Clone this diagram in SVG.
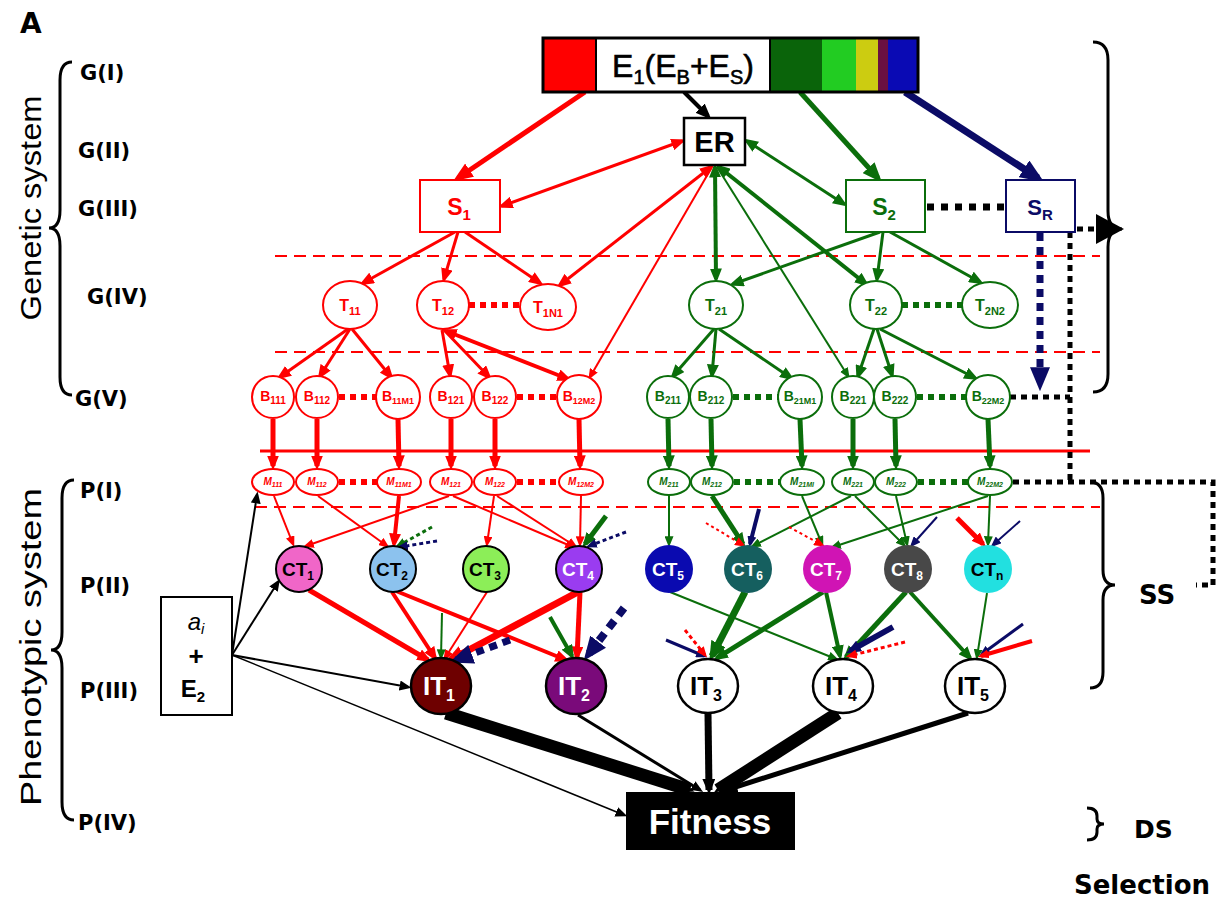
<svg xmlns="http://www.w3.org/2000/svg" width="1223" height="900" viewBox="0 0 1223 900">
<defs>
<style>
text{font-family:"Liberation Sans",Arial,sans-serif;}
.b{font-weight:bold;}
.lab text{font-family:"DejaVu Sans","Liberation Sans",sans-serif;font-weight:bold;}
.r{stroke:#ff0000;fill:none;}
.g{stroke:#0b6e0b;fill:none;}
.n{stroke:#0b0b66;fill:none;}
.k{stroke:#000;fill:none;}
.nodeR{fill:#fff;stroke:#ff0000;stroke-width:2;}
.nodeG{fill:#fff;stroke:#0b6e0b;stroke-width:2;}
.tr{fill:#ff0000;font-weight:bold;}
.tg{fill:#0b6e0b;font-weight:bold;}
.ct{stroke:#000;stroke-width:2;}
</style>
<marker id="mr1" viewBox="0 0 10 10" refX="7" refY="5" markerWidth="11" markerHeight="9" markerUnits="userSpaceOnUse" orient="auto-start-reverse" preserveAspectRatio="none"><path d="M0,0L10,5L0,10z" fill="#ff0000"/></marker>
<marker id="mr2" viewBox="0 0 10 10" refX="7" refY="5" markerWidth="15" markerHeight="12" markerUnits="userSpaceOnUse" orient="auto-start-reverse" preserveAspectRatio="none"><path d="M0,0L10,5L0,10z" fill="#ff0000"/></marker>
<marker id="mr3" viewBox="0 0 10 10" refX="7" refY="5" markerWidth="20" markerHeight="16" markerUnits="userSpaceOnUse" orient="auto-start-reverse" preserveAspectRatio="none"><path d="M0,0L10,5L0,10z" fill="#ff0000"/></marker>
<marker id="mg1" viewBox="0 0 10 10" refX="7" refY="5" markerWidth="11" markerHeight="9" markerUnits="userSpaceOnUse" orient="auto-start-reverse" preserveAspectRatio="none"><path d="M0,0L10,5L0,10z" fill="#0b6e0b"/></marker>
<marker id="mg2" viewBox="0 0 10 10" refX="7" refY="5" markerWidth="15" markerHeight="12" markerUnits="userSpaceOnUse" orient="auto-start-reverse" preserveAspectRatio="none"><path d="M0,0L10,5L0,10z" fill="#0b6e0b"/></marker>
<marker id="mg3" viewBox="0 0 10 10" refX="7" refY="5" markerWidth="20" markerHeight="16" markerUnits="userSpaceOnUse" orient="auto-start-reverse" preserveAspectRatio="none"><path d="M0,0L10,5L0,10z" fill="#0b6e0b"/></marker>
<marker id="mn1" viewBox="0 0 10 10" refX="7" refY="5" markerWidth="11" markerHeight="9" markerUnits="userSpaceOnUse" orient="auto-start-reverse" preserveAspectRatio="none"><path d="M0,0L10,5L0,10z" fill="#0b0b66"/></marker>
<marker id="mn2" viewBox="0 0 10 10" refX="7" refY="5" markerWidth="15" markerHeight="12" markerUnits="userSpaceOnUse" orient="auto-start-reverse" preserveAspectRatio="none"><path d="M0,0L10,5L0,10z" fill="#0b0b66"/></marker>
<marker id="mn3" viewBox="0 0 10 10" refX="7" refY="5" markerWidth="24" markerHeight="20" markerUnits="userSpaceOnUse" orient="auto-start-reverse" preserveAspectRatio="none"><path d="M0,0L10,5L0,10z" fill="#0b0b66"/></marker>
<marker id="mk1" viewBox="0 0 10 10" refX="7" refY="5" markerWidth="12" markerHeight="10" markerUnits="userSpaceOnUse" orient="auto-start-reverse" preserveAspectRatio="none"><path d="M0,0L10,5L0,10z" fill="#000"/></marker>
<marker id="mk2" viewBox="0 0 10 10" refX="7" refY="5" markerWidth="16" markerHeight="13" markerUnits="userSpaceOnUse" orient="auto-start-reverse" preserveAspectRatio="none"><path d="M0,0L10,5L0,10z" fill="#000"/></marker>
</defs>
<rect width="1223" height="900" fill="#fff"/>

<!-- labels -->
<g id="labels" class="lab" font-size="21">
<text x="20" y="33" font-size="28">A</text>
<text x="80" y="80">G(I)</text>
<text x="78" y="158">G(II)</text>
<text x="78" y="216">G(III)</text>
<text x="87" y="304">G(IV)</text>
<text x="75" y="406">G(V)</text>
<text x="80" y="498">P(I)</text>
<text x="80" y="593">P(II)</text>
<text x="80" y="698">P(III)</text>
<text x="78" y="830">P(IV)</text>
<text x="1139" y="604" font-size="26">SS</text>
<text x="1134" y="838" font-size="25">DS</text>
<text x="1074" y="894" font-size="26">Selection</text>
</g>
<g id="sysLabels" font-size="29">
<text transform="translate(41,208) rotate(-90)" text-anchor="middle" textLength="225" lengthAdjust="spacingAndGlyphs">Genetic system</text>
<text transform="translate(41,647) rotate(-90)" text-anchor="middle" textLength="318" lengthAdjust="spacingAndGlyphs">Phenotypic system</text>
</g>
<g id="braces" class="k" stroke-width="3">
<path d="M72,62 Q60,62 60,80 L60,210 Q60,228 49,228 Q60,228 60,246 L60,377 Q60,395 72,395"/>
<path d="M74,480 Q62,480 62,498 L62,632 Q62,650 51,650 Q62,650 62,668 L62,802 Q62,820 74,820"/>
<path d="M1093,42 Q1108,42 1108,60 L1108,211 Q1108,229 1122,229 Q1108,229 1108,247 L1108,374 Q1108,392 1093,392"/>
<path d="M1090,482 Q1103,482 1103,498 L1103,570 Q1103,585 1115,585 Q1103,585 1103,600 L1103,672 Q1103,688 1090,688"/>
<path d="M1087,808 Q1097,808 1097,816 L1097,819 Q1097,824 1104,824 Q1097,824 1097,829 L1097,832 Q1097,840 1087,840"/>
</g>

<!-- level lines -->
<g id="levelLines" stroke-width="2" fill="none">
<line x1="275" y1="256" x2="1100" y2="256" stroke="#ff0000" stroke-dasharray="12 7"/>
<line x1="275" y1="352" x2="1100" y2="352" stroke="#ff0000" stroke-dasharray="12 7"/>
<line x1="260" y1="451" x2="1090" y2="451" stroke="#ff0000" stroke-width="3"/>
<line x1="255" y1="507" x2="1100" y2="507" stroke="#ff0000" stroke-dasharray="12 7"/>
</g>

<!-- connectors -->
<g id="connectors">
<line class="r" stroke-width="5" x1="585" y1="92" x2="458" y2="178" marker-end="url(#mr3)"/>
<line class="k" stroke-width="4" x1="684" y1="92" x2="708" y2="116" marker-end="url(#mk2)"/>
<line class="g" stroke-width="5" x1="800" y1="92" x2="878" y2="178" marker-end="url(#mg3)"/>
<line class="n" stroke-width="7" x1="905" y1="92" x2="1038" y2="178" marker-end="url(#mn3)"/>
<line class="r" stroke-width="3" x1="502" y1="206" x2="682" y2="141" marker-start="url(#mr2)" marker-end="url(#mr2)"/>
<line class="g" stroke-width="3" x1="747" y1="141" x2="844" y2="204" marker-start="url(#mg2)" marker-end="url(#mg2)"/>
<line class="r" stroke-width="3" x1="455" y1="232" x2="363" y2="283" marker-end="url(#mr2)"/>
<line class="r" stroke-width="3" x1="458" y1="232" x2="444" y2="279" marker-end="url(#mr2)"/>
<line class="r" stroke-width="3" x1="465" y1="232" x2="540" y2="283" marker-end="url(#mr2)"/>
<line class="g" stroke-width="3" x1="880" y1="232" x2="733" y2="284" marker-end="url(#mg2)"/>
<line class="g" stroke-width="3" x1="883" y1="232" x2="877" y2="279" marker-end="url(#mg2)"/>
<line class="g" stroke-width="3" x1="890" y1="232" x2="980" y2="282" marker-end="url(#mg2)"/>
<line class="r" stroke-width="3" x1="711" y1="167" x2="560" y2="285" marker-start="url(#mr2)" marker-end="url(#mr2)"/>
<line class="r" stroke-width="2" x1="712" y1="167" x2="590" y2="377" marker-end="url(#mr1)"/>
<line class="g" stroke-width="4" x1="715" y1="167" x2="716" y2="279" marker-start="url(#mg2)" marker-end="url(#mg2)"/>
<line class="g" stroke-width="2" x1="717" y1="167" x2="848" y2="376" marker-end="url(#mg1)"/>
<line class="g" stroke-width="4" x1="719" y1="167" x2="866" y2="284" marker-start="url(#mg2)" marker-end="url(#mg2)"/>
<line class="r" stroke-width="3" x1="348" y1="329" x2="280" y2="377" marker-end="url(#mr2)"/>
<line class="r" stroke-width="3" x1="350" y1="329" x2="320" y2="376" marker-end="url(#mr2)"/>
<line class="r" stroke-width="3" x1="352" y1="329" x2="391" y2="377" marker-end="url(#mr2)"/>
<line class="r" stroke-width="3" x1="442" y1="330" x2="450" y2="375" marker-end="url(#mr2)"/>
<line class="r" stroke-width="3" x1="444" y1="330" x2="489" y2="377" marker-end="url(#mr2)"/>
<line class="r" stroke-width="4" x1="446" y1="331" x2="568" y2="379" marker-start="url(#mr2)" marker-end="url(#mr2)"/>
<line class="g" stroke-width="3" x1="714" y1="329" x2="673" y2="376" marker-end="url(#mg2)"/>
<line class="g" stroke-width="3" x1="716" y1="329" x2="712" y2="375" marker-end="url(#mg2)"/>
<line class="g" stroke-width="3" x1="719" y1="329" x2="791" y2="378" marker-end="url(#mg2)"/>
<line class="g" stroke-width="3" x1="874" y1="329" x2="858" y2="376" marker-end="url(#mg2)"/>
<line class="g" stroke-width="3" x1="877" y1="329" x2="892" y2="375" marker-end="url(#mg2)"/>
<line class="g" stroke-width="3" x1="880" y1="329" x2="975" y2="378" marker-end="url(#mg2)"/>
<g stroke-width="5">
<line class="r" x1="273" y1="419" x2="273" y2="466" marker-end="url(#mr2)"/>
<line class="r" x1="317" y1="419" x2="317" y2="466" marker-end="url(#mr2)"/>
<line class="r" x1="398" y1="419" x2="399" y2="466" marker-end="url(#mr2)"/>
<line class="r" x1="451" y1="419" x2="451" y2="466" marker-end="url(#mr2)"/>
<line class="r" x1="495" y1="419" x2="495" y2="466" marker-end="url(#mr2)"/>
<line class="r" x1="579" y1="419" x2="580" y2="466" marker-end="url(#mr2)"/>
<line class="g" x1="668" y1="419" x2="669" y2="466" marker-end="url(#mg2)"/>
<line class="g" x1="711" y1="419" x2="712" y2="466" marker-end="url(#mg2)"/>
<line class="g" x1="800" y1="419" x2="802" y2="466" marker-end="url(#mg2)"/>
<line class="g" x1="853" y1="419" x2="853" y2="466" marker-end="url(#mg2)"/>
<line class="g" x1="895" y1="419" x2="896" y2="466" marker-end="url(#mg2)"/>
<line class="g" x1="988" y1="419" x2="990" y2="466" marker-end="url(#mg2)"/>
</g>
<line class="r" stroke-width="2" x1="274" y1="496" x2="293" y2="544" marker-end="url(#mr1)"/>
<line class="r" stroke-width="2" x1="449" y1="496" x2="306" y2="546" marker-end="url(#mr1)"/>
<line class="r" stroke-width="2" x1="318" y1="496" x2="387" y2="546" marker-end="url(#mr1)"/>
<line class="r" stroke-width="4" x1="399" y1="496" x2="394" y2="544" marker-end="url(#mr2)"/>
<line class="r" stroke-width="2" x1="453" y1="496" x2="573" y2="547" marker-end="url(#mr1)"/>
<line class="r" stroke-width="2" x1="494" y1="496" x2="487" y2="544" marker-end="url(#mr1)"/>
<line class="r" stroke-width="2" x1="497" y1="496" x2="575" y2="546" marker-end="url(#mr1)"/>
<line class="r" stroke-width="2" x1="581" y1="496" x2="580" y2="544" marker-end="url(#mr1)"/>
<line class="g" stroke-width="3" stroke-dasharray="4 3" x1="432" y1="527" x2="398" y2="546" marker-end="url(#mg1)"/>
<line class="n" stroke-width="3" stroke-dasharray="4 3" x1="437" y1="541" x2="400" y2="547" marker-end="url(#mn1)"/>
<line class="g" stroke-width="5" x1="606" y1="516" x2="585" y2="544" marker-end="url(#mg2)"/>
<line class="n" stroke-width="3" stroke-dasharray="4 3" x1="626" y1="532" x2="589" y2="546" marker-end="url(#mn1)"/>
<line class="g" stroke-width="2" x1="669" y1="496" x2="669" y2="544" marker-end="url(#mg1)"/>
<line class="g" stroke-width="5" x1="712" y1="496" x2="743" y2="544" marker-end="url(#mg2)"/>
<line class="g" stroke-width="2" x1="851" y1="496" x2="753" y2="546" marker-end="url(#mg1)"/>
<line class="g" stroke-width="2" x1="802" y1="496" x2="822" y2="544" marker-end="url(#mg1)"/>
<line class="g" stroke-width="2" x1="988" y1="496" x2="833" y2="547" marker-end="url(#mg1)"/>
<line class="g" stroke-width="2" x1="855" y1="496" x2="904" y2="545" marker-end="url(#mg1)"/>
<line class="g" stroke-width="2" x1="896" y1="496" x2="907" y2="544" marker-end="url(#mg1)"/>
<line class="g" stroke-width="2" x1="990" y1="496" x2="988" y2="544" marker-end="url(#mg1)"/>
<line class="r" stroke-width="2" stroke-dasharray="3 3" x1="706" y1="523" x2="743" y2="545" marker-end="url(#mr1)"/>
<line class="n" stroke-width="4" x1="759" y1="509" x2="750" y2="544" marker-end="url(#mn1)"/>
<line class="r" stroke-width="2" stroke-dasharray="3 3" x1="789" y1="527" x2="822" y2="545" marker-end="url(#mr1)"/>
<line class="n" stroke-width="2" x1="937" y1="517" x2="912" y2="545" marker-end="url(#mn1)"/>
<line class="r" stroke-width="5" x1="957" y1="518" x2="983" y2="544" marker-end="url(#mr2)"/>
<line class="n" stroke-width="2" x1="1020" y1="521" x2="993" y2="545" marker-end="url(#mn1)"/>
<line class="r" stroke-width="5" x1="309" y1="590" x2="428" y2="660" marker-end="url(#mr2)"/>
<line class="r" stroke-width="4" x1="392" y1="592" x2="435" y2="658" marker-end="url(#mr2)"/>
<line class="r" stroke-width="4" x1="396" y1="591" x2="566" y2="660" marker-end="url(#mr2)"/>
<line class="r" stroke-width="2" x1="487" y1="592" x2="445" y2="658" marker-end="url(#mr1)"/>
<line class="r" stroke-width="7" x1="578" y1="592" x2="450" y2="660" marker-end="url(#mr3)"/>
<line class="r" stroke-width="5" x1="580" y1="592" x2="577" y2="657" marker-end="url(#mr2)"/>
<line class="g" stroke-width="2" x1="442" y1="613" x2="441" y2="657" marker-end="url(#mg1)"/>
<line class="n" stroke-width="7" stroke-dasharray="8 6" x1="510" y1="640" x2="456" y2="660" marker-end="url(#mn3)"/>
<line class="g" stroke-width="4" x1="550" y1="617" x2="572" y2="656" marker-end="url(#mg2)"/>
<line class="n" stroke-width="8" stroke-dasharray="9 7" x1="624" y1="608" x2="588" y2="655" marker-end="url(#mn3)"/>
<line class="g" stroke-width="2" x1="670" y1="592" x2="836" y2="659" marker-end="url(#mg1)"/>
<line class="g" stroke-width="7" x1="745" y1="592" x2="712" y2="656" marker-end="url(#mg3)"/>
<line class="g" stroke-width="5" x1="823" y1="592" x2="717" y2="658" marker-end="url(#mg2)"/>
<line class="g" stroke-width="4" x1="826" y1="592" x2="840" y2="656" marker-end="url(#mg2)"/>
<line class="g" stroke-width="5" x1="906" y1="592" x2="846" y2="657" marker-end="url(#mg2)"/>
<line class="g" stroke-width="4" x1="910" y1="592" x2="970" y2="658" marker-end="url(#mg2)"/>
<line class="g" stroke-width="2" x1="987" y1="593" x2="977" y2="657" marker-end="url(#mg1)"/>
<line class="n" stroke-width="3" x1="666" y1="640" x2="704" y2="656" marker-end="url(#mn1)"/>
<line class="r" stroke-width="3" stroke-dasharray="4 3" x1="685" y1="630" x2="705" y2="655" marker-end="url(#mr1)"/>
<line class="n" stroke-width="6" x1="893" y1="627" x2="850" y2="651" marker-end="url(#mn2)"/>
<line class="r" stroke-width="3" stroke-dasharray="4 3" x1="905" y1="642" x2="849" y2="656" marker-end="url(#mr1)"/>
<line class="n" stroke-width="3" x1="1023" y1="624" x2="982" y2="654" marker-end="url(#mn1)"/>
<line class="r" stroke-width="4" x1="1032" y1="641" x2="981" y2="656" marker-end="url(#mr1)"/>
<line class="k" stroke-width="13" x1="446" y1="713" x2="690" y2="790" marker-end="url(#mk2)"/>
<line class="k" stroke-width="3" x1="578" y1="715" x2="700" y2="790" marker-end="url(#mk1)"/>
<line class="k" stroke-width="7" x1="708" y1="714" x2="709" y2="790" marker-end="url(#mk2)"/>
<line class="k" stroke-width="13" x1="838" y1="713" x2="718" y2="790" marker-end="url(#mk2)"/>
<line class="k" stroke-width="5" x1="968" y1="713" x2="726" y2="790" marker-end="url(#mk2)"/>
<line class="k" stroke-width="2" x1="232" y1="655" x2="257" y2="495" marker-end="url(#mk1)"/>
<line class="k" stroke-width="2" x1="232" y1="655" x2="278" y2="582" marker-end="url(#mk1)"/>
<line class="k" stroke-width="2" x1="232" y1="655" x2="408" y2="687" marker-end="url(#mk1)"/>
<line class="k" stroke-width="1.5" x1="232" y1="655" x2="624" y2="815" marker-end="url(#mk1)"/>
<line class="n" stroke-width="7" stroke-dasharray="8 6" x1="1040" y1="233" x2="1040" y2="384" marker-end="url(#mn3)"/>
<line class="k" stroke-width="7" stroke-dasharray="7 7" x1="927" y1="207" x2="1004" y2="207"/>
<g class="k" stroke-width="5" stroke-dasharray="6 5">
<line x1="1077" y1="229" x2="1100" y2="229"/>
<line x1="1070" y1="232" x2="1070" y2="482"/>
<line x1="1010" y1="397" x2="1070" y2="397"/>
<polyline points="1013,482 1213,482 1213,585 1196,585"/>
</g>
<polygon points="1096,214 1124,229 1096,244" fill="#000"/>
<g stroke-width="6" stroke-dasharray="6 5" fill="none">
<line stroke="#ff0000" x1="469" y1="305" x2="520" y2="305"/>
<line stroke="#0b6e0b" x1="902" y1="305" x2="962" y2="305"/>
<line stroke="#ff0000" x1="339" y1="397" x2="376" y2="397"/>
<line stroke="#ff0000" x1="517" y1="397" x2="557" y2="397"/>
<line stroke="#0b6e0b" x1="733" y1="397" x2="778" y2="397"/>
<line stroke="#0b6e0b" x1="917" y1="397" x2="966" y2="397"/>
<line stroke="#ff0000" x1="339" y1="482" x2="377" y2="482"/>
<line stroke="#ff0000" x1="517" y1="482" x2="559" y2="482"/>
<line stroke="#0b6e0b" x1="734" y1="482" x2="780" y2="482"/>
<line stroke="#0b6e0b" x1="918" y1="482" x2="968" y2="482"/>
</g>
</g>

<g id="E1bar">
<rect x="543" y="38" width="53" height="54" fill="#ff0000"/>
<rect x="596" y="38" width="174" height="54" fill="#fff"/>
<rect x="770" y="38" width="52" height="54" fill="#0a640a"/>
<rect x="822" y="38" width="34" height="54" fill="#22cc22"/>
<rect x="856" y="38" width="22" height="54" fill="#cccc11"/>
<rect x="878" y="38" width="10" height="54" fill="#6a1040"/>
<rect x="888" y="38" width="30" height="54" fill="#0a0ab4"/>
<rect x="543" y="38" width="375" height="54" fill="none" stroke="#000" stroke-width="3"/>
<line x1="596" y1="38" x2="596" y2="92" stroke="#000" stroke-width="2"/>
<line x1="770" y1="38" x2="770" y2="92" stroke="#000" stroke-width="2"/>
<text x="683" y="77" font-size="32" text-anchor="middle" stroke="#000" stroke-width="0.6">E<tspan font-size="20" dy="7">1</tspan><tspan dy="-7">(E</tspan><tspan font-size="20" dy="7">B</tspan><tspan dy="-7">+E</tspan><tspan font-size="20" dy="7">S</tspan><tspan dy="-7">)</tspan></text>
</g>

<g id="ER"><rect x="684" y="118" width="61" height="47" fill="#fff" stroke="#000" stroke-width="2.5"/><text x="714.5" y="152" font-size="29" class="b" text-anchor="middle">ER</text></g>
<g id="S1"><rect x="420" y="180" width="80" height="52" fill="#fff" stroke="#ff0000" stroke-width="2"/><text x="459" y="215" font-size="23" class="tr" text-anchor="middle">S<tspan font-size="15" dy="5">1</tspan></text></g>
<g id="S2"><rect x="846" y="180" width="79" height="52" fill="#fff" stroke="#0b6e0b" stroke-width="2"/><text x="884" y="215" font-size="23" class="tg" text-anchor="middle">S<tspan font-size="15" dy="5">2</tspan></text></g>
<g id="SR"><rect x="1006" y="180" width="69" height="52" fill="#fff" stroke="#0b0b66" stroke-width="2"/><text x="1040" y="215" font-size="22" fill="#0b0b66" class="b" text-anchor="middle">S<tspan font-size="15" dy="5">R</tspan></text></g>

<g id="T11"><ellipse class="nodeR" cx="350" cy="305" rx="27" ry="24"/><text class="tr" x="350" y="311" font-size="16" text-anchor="middle">T<tspan font-size="11" dy="4">11</tspan></text></g>
<g id="T12"><ellipse class="nodeR" cx="443" cy="305" rx="26" ry="24"/><text class="tr" x="443" y="311" font-size="16" text-anchor="middle">T<tspan font-size="11" dy="4">12</tspan></text></g>
<g id="T1N1"><ellipse class="nodeR" cx="548" cy="307" rx="28" ry="23"/><text class="tr" x="548" y="313" font-size="16" text-anchor="middle">T<tspan font-size="11" dy="4">1N1</tspan></text></g>
<g id="T21"><ellipse class="nodeG" cx="716" cy="305" rx="27" ry="24"/><text class="tg" x="716" y="311" font-size="16" text-anchor="middle">T<tspan font-size="11" dy="4">21</tspan></text></g>
<g id="T22"><ellipse class="nodeG" cx="876" cy="305" rx="26" ry="24"/><text class="tg" x="876" y="311" font-size="16" text-anchor="middle">T<tspan font-size="11" dy="4">22</tspan></text></g>
<g id="T2N2"><ellipse class="nodeG" cx="990" cy="305" rx="28" ry="23"/><text class="tg" x="990" y="311" font-size="16" text-anchor="middle">T<tspan font-size="11" dy="4">2N2</tspan></text></g>

<g id="B111"><circle class="nodeR" cx="273" cy="397" r="21"/><text class="tr" x="273" y="401" font-size="14" text-anchor="middle">B<tspan font-size="10" dy="3">111</tspan></text></g>
<g id="B112"><circle class="nodeR" cx="317" cy="397" r="21"/><text class="tr" x="317" y="401" font-size="14" text-anchor="middle">B<tspan font-size="10" dy="3">112</tspan></text></g>
<g id="B11M1"><circle class="nodeR" cx="398" cy="397" r="22"/><text class="tr" x="398" y="401" font-size="14" text-anchor="middle">B<tspan font-size="9" dy="3">11M1</tspan></text></g>
<g id="B121"><circle class="nodeR" cx="451" cy="397" r="21"/><text class="tr" x="451" y="401" font-size="14" text-anchor="middle">B<tspan font-size="10" dy="3">121</tspan></text></g>
<g id="B122"><circle class="nodeR" cx="495" cy="397" r="21"/><text class="tr" x="495" y="401" font-size="14" text-anchor="middle">B<tspan font-size="10" dy="3">122</tspan></text></g>
<g id="B12M2"><circle class="nodeR" cx="579" cy="397" r="22"/><text class="tr" x="579" y="401" font-size="14" text-anchor="middle">B<tspan font-size="9" dy="3">12M2</tspan></text></g>
<g id="B211"><circle class="nodeG" cx="668" cy="397" r="21"/><text class="tg" x="668" y="401" font-size="14" text-anchor="middle">B<tspan font-size="10" dy="3">211</tspan></text></g>
<g id="B212"><circle class="nodeG" cx="711" cy="397" r="21"/><text class="tg" x="711" y="401" font-size="14" text-anchor="middle">B<tspan font-size="10" dy="3">212</tspan></text></g>
<g id="B21M1"><circle class="nodeG" cx="800" cy="397" r="22"/><text class="tg" x="800" y="401" font-size="14" text-anchor="middle">B<tspan font-size="9" dy="3">21M1</tspan></text></g>
<g id="B221"><circle class="nodeG" cx="853" cy="397" r="21"/><text class="tg" x="853" y="401" font-size="14" text-anchor="middle">B<tspan font-size="10" dy="3">221</tspan></text></g>
<g id="B222"><circle class="nodeG" cx="895" cy="397" r="21"/><text class="tg" x="895" y="401" font-size="14" text-anchor="middle">B<tspan font-size="10" dy="3">222</tspan></text></g>
<g id="B22M2"><circle class="nodeG" cx="988" cy="397" r="22"/><text class="tg" x="988" y="401" font-size="14" text-anchor="middle">B<tspan font-size="9" dy="3">22M2</tspan></text></g>

<g font-style="italic">
<g id="M111"><ellipse class="nodeR" cx="273" cy="482" rx="21" ry="13"/><text class="tr" x="273" y="485" font-size="10" text-anchor="middle">M<tspan font-size="7" dy="2">111</tspan></text></g>
<g id="M112"><ellipse class="nodeR" cx="317" cy="482" rx="21" ry="13"/><text class="tr" x="317" y="485" font-size="10" text-anchor="middle">M<tspan font-size="7" dy="2">112</tspan></text></g>
<g id="M11M1"><ellipse class="nodeR" cx="399" cy="482" rx="22" ry="13"/><text class="tr" x="399" y="485" font-size="10" text-anchor="middle">M<tspan font-size="7" dy="2">11M1</tspan></text></g>
<g id="M121"><ellipse class="nodeR" cx="451" cy="482" rx="21" ry="13"/><text class="tr" x="451" y="485" font-size="10" text-anchor="middle">M<tspan font-size="7" dy="2">121</tspan></text></g>
<g id="M122"><ellipse class="nodeR" cx="495" cy="482" rx="21" ry="13"/><text class="tr" x="495" y="485" font-size="10" text-anchor="middle">M<tspan font-size="7" dy="2">122</tspan></text></g>
<g id="M12M2"><ellipse class="nodeR" cx="581" cy="482" rx="22" ry="13"/><text class="tr" x="581" y="485" font-size="10" text-anchor="middle">M<tspan font-size="7" dy="2">12M2</tspan></text></g>
<g id="M211"><ellipse class="nodeG" cx="669" cy="482" rx="21" ry="13"/><text class="tg" x="669" y="485" font-size="10" text-anchor="middle">M<tspan font-size="7" dy="2">211</tspan></text></g>
<g id="M212"><ellipse class="nodeG" cx="712" cy="482" rx="21" ry="13"/><text class="tg" x="712" y="485" font-size="10" text-anchor="middle">M<tspan font-size="7" dy="2">212</tspan></text></g>
<g id="M21M1"><ellipse class="nodeG" cx="802" cy="482" rx="22" ry="13"/><text class="tg" x="802" y="485" font-size="10" text-anchor="middle">M<tspan font-size="7" dy="2">21MI</tspan></text></g>
<g id="M221"><ellipse class="nodeG" cx="853" cy="482" rx="21" ry="13"/><text class="tg" x="853" y="485" font-size="10" text-anchor="middle">M<tspan font-size="7" dy="2">221</tspan></text></g>
<g id="M222"><ellipse class="nodeG" cx="896" cy="482" rx="21" ry="13"/><text class="tg" x="896" y="485" font-size="10" text-anchor="middle">M<tspan font-size="7" dy="2">222</tspan></text></g>
<g id="M22M2"><ellipse class="nodeG" cx="990" cy="482" rx="22" ry="13"/><text class="tg" x="990" y="485" font-size="10" text-anchor="middle">M<tspan font-size="7" dy="2">22M2</tspan></text></g>
</g>

<g class="b" font-size="19" text-anchor="middle">
<g id="CT1"><circle class="ct" cx="299" cy="569" r="23" fill="#f066c8"/><text x="298" y="576">CT<tspan font-size="12" dy="4">1</tspan></text></g>
<g id="CT2"><circle class="ct" cx="393" cy="569" r="23" fill="#8cc2ee"/><text x="392" y="576">CT<tspan font-size="12" dy="4">2</tspan></text></g>
<g id="CT3"><circle class="ct" cx="486" cy="569" r="23" fill="#8cee58"/><text x="485" y="576">CT<tspan font-size="12" dy="4">3</tspan></text></g>
<g id="CT4"><circle class="ct" cx="579" cy="569" r="23" fill="#9a3cf0"/><text x="578" y="576" fill="#fff">CT<tspan font-size="12" dy="4">4</tspan></text></g>
<g id="CT5"><circle cx="669" cy="569" r="24" fill="#0a0ab0"/><text x="668" y="576" fill="#fff">CT<tspan font-size="12" dy="4">5</tspan></text></g>
<g id="CT6"><circle cx="748" cy="569" r="24" fill="#155f5f"/><text x="747" y="576" fill="#fff">CT<tspan font-size="12" dy="4">6</tspan></text></g>
<g id="CT7"><circle cx="827" cy="569" r="24" fill="#d014b4"/><text x="826" y="576" fill="#fff">CT<tspan font-size="12" dy="4">7</tspan></text></g>
<g id="CT8"><circle cx="908" cy="569" r="24" fill="#484848"/><text x="907" y="576" fill="#fff">CT<tspan font-size="12" dy="4">8</tspan></text></g>
<g id="CTn"><circle cx="988" cy="569" r="24" fill="#22e0e0"/><text x="987" y="576">CT<tspan font-size="12" dy="4">n</tspan></text></g>
</g>

<g class="b" font-size="26" text-anchor="middle">
<g id="IT1"><ellipse cx="441" cy="686" rx="30" ry="28" fill="#6e0000" stroke="#000" stroke-width="2.5"/><text x="439" y="695" fill="#fff">IT<tspan font-size="16" dy="6">1</tspan></text></g>
<g id="IT2"><ellipse cx="576" cy="686" rx="30" ry="28" fill="#7a0a7a" stroke="#000" stroke-width="2.5"/><text x="574" y="695" fill="#fff">IT<tspan font-size="16" dy="6">2</tspan></text></g>
<g id="IT3"><ellipse cx="708" cy="686" rx="30" ry="27" fill="#fff" stroke="#000" stroke-width="2.5"/><text x="706" y="695">IT<tspan font-size="16" dy="6">3</tspan></text></g>
<g id="IT4"><ellipse cx="843" cy="686" rx="30" ry="27" fill="#fff" stroke="#000" stroke-width="2.5"/><text x="841" y="695">IT<tspan font-size="16" dy="6">4</tspan></text></g>
<g id="IT5"><ellipse cx="975" cy="686" rx="30" ry="27" fill="#fff" stroke="#000" stroke-width="2.5"/><text x="973" y="695">IT<tspan font-size="16" dy="6">5</tspan></text></g>
</g>

<g id="Fitness"><rect x="626" y="792" width="169" height="58" fill="#000"/><text x="710" y="834" font-size="35" class="b" fill="#fff" text-anchor="middle">Fitness</text></g>

<g id="aiE2"><rect x="161" y="597" width="71" height="118" fill="#fff" stroke="#000" stroke-width="2"/>
<text x="196" y="630" font-size="24" font-style="italic" text-anchor="middle">a<tspan font-size="15" dy="4">i</tspan></text>
<text x="196" y="665" font-size="26" class="b" text-anchor="middle">+</text>
<text x="193" y="697" font-size="24" class="b" text-anchor="middle">E<tspan font-size="15" dy="5">2</tspan></text>
</g>
</svg>
